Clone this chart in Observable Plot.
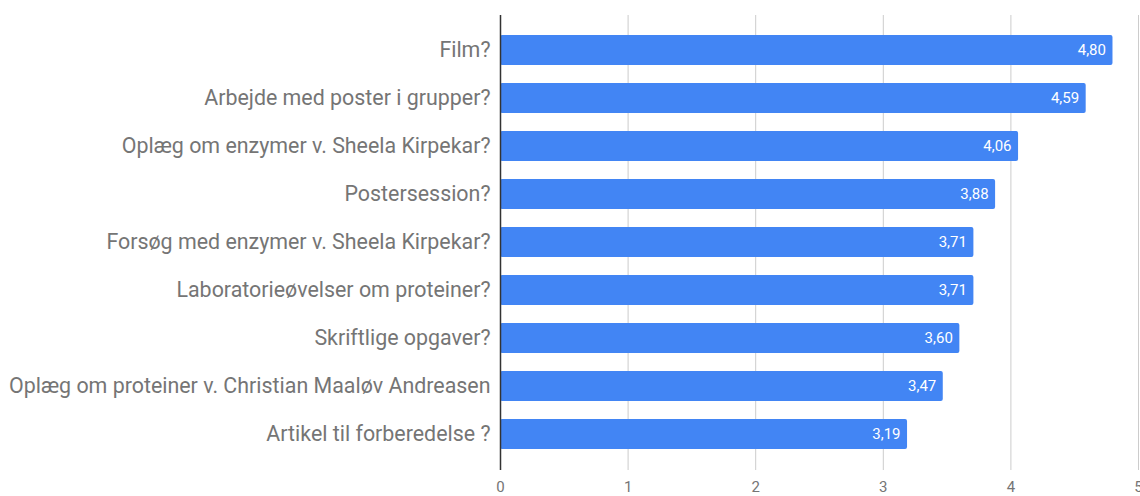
<!DOCTYPE html>
<html>
<head>
<meta charset="utf-8">
<script src="https://cdn.jsdelivr.net/npm/d3@7"></script>
<script src="https://cdn.jsdelivr.net/npm/@observablehq/plot@0.6"></script>
<style>
  html, body { margin: 0; padding: 0; background: #fff; }
  #chart { width: 1140px; height: 496px; }
</style>
</head>
<body>
<div id="chart"></div>
<script>
const categories = [
  "Film?",
  "Arbejde med poster i grupper?",
  "Oplæg om enzymer v. Sheela Kirpekar?",
  "Postersession?",
  "Forsøg med enzymer v. Sheela Kirpekar?",
  "Laboratorieøvelser om proteiner?",
  "Skriftlige opgaver?",
  "Oplæg om proteiner v. Christian Maaløv Andreasen",
  "Artikel til forberedelse ?"
];
const values = [4.80, 4.59, 4.06, 3.88, 3.71, 3.71, 3.60, 3.47, 3.19];
const xTicks = [0, 1, 2, 3, 4, 5];

const data = categories.map((c, i) => ({label: c, value: values[i]}));
const fmt = v => d3.format(".2f")(v).replace(".", ",");

const chart = Plot.plot({
  width: 1140,
  height: 496,
  marginLeft: 500,
  marginRight: 2,
  marginTop: 15,
  marginBottom: 26,
  style: {fontFamily: "Roboto, sans-serif", background: "#fff"},
  x: {domain: [0, 5], ticks: xTicks},
  y: {domain: categories, paddingInner: 0.37, paddingOuter: 0.35, label: null},
  marks: [
    Plot.ruleX(xTicks.filter(d => d > 0), {stroke: "#cccccc", strokeWidth: 1}),
    Plot.barX(data, {x: "value", y: "label", fill: "#4285F4", rx: 2}),
    Plot.ruleX([0], {stroke: "#333333", strokeWidth: 1.5}),
    Plot.text(data, {x: "value", y: "label", text: d => fmt(d.value), textAnchor: "end", dx: -7, fill: "white", fontSize: 15}),
    Plot.axisY({tickSize: 0, tickPadding: 10, fontSize: 21.4, color: "#757575", label: null}),
    Plot.axisX({ticks: xTicks, tickSize: 0, tickPadding: 11, fontSize: 15, color: "#757575", label: null, tickFormat: d => String(d)})
  ]
});
document.getElementById("chart").appendChild(chart);
</script>
</body>
</html>
